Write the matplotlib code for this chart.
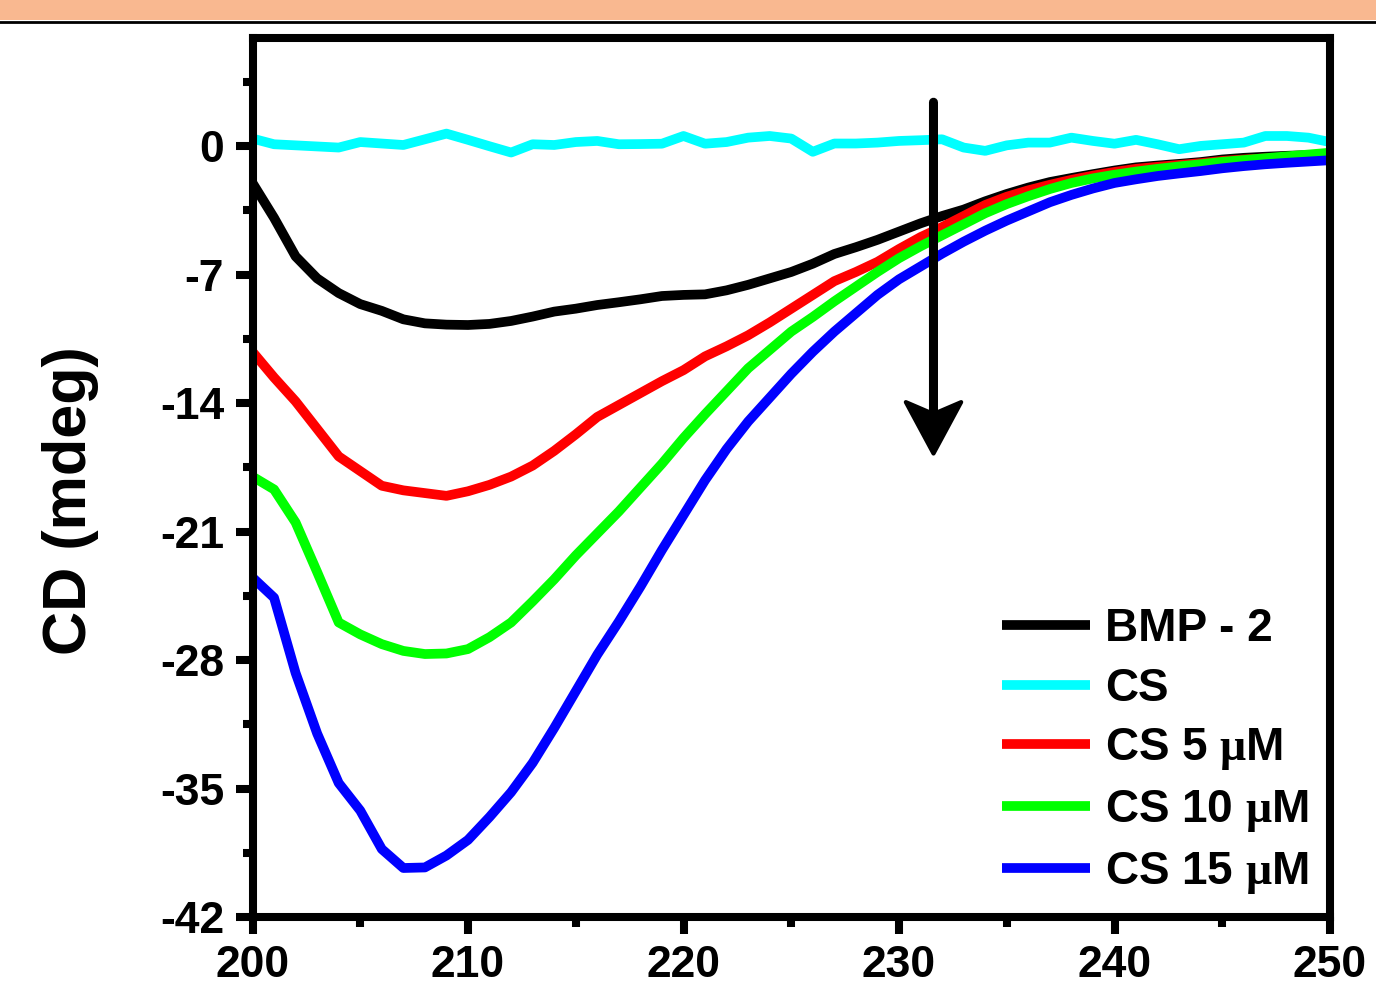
import numpy as np
import matplotlib
matplotlib.use("Agg")
import matplotlib.pyplot as plt
from matplotlib.patches import Rectangle
from matplotlib.lines import Line2D
from matplotlib.markers import MarkerStyle
from matplotlib.path import Path
from matplotlib.ticker import MultipleLocator

plt.rcParams['font.family'] = ['Liberation Sans', 'DejaVu Sans']
plt.rcParams['font.weight'] = 'bold'
plt.rcParams['axes.unicode_minus'] = False
plt.rcParams['mathtext.fontset'] = 'custom'
plt.rcParams['mathtext.rm'] = 'Liberation Serif'

# wavelength (nm), 1 nm steps
wavelength = np.arange(200, 251)

bmp2 = [-2.0, -3.9, -6.0, -7.2, -8.0, -8.6, -8.97, -9.43, -9.65, -9.72,
        -9.74, -9.68, -9.52, -9.28, -9.01, -8.85, -8.65, -8.5, -8.34, -8.16,
        -8.1, -8.07, -7.85, -7.55, -7.2, -6.85, -6.4, -5.87, -5.5, -5.1,
        -4.65, -4.2, -3.8, -3.45, -3.0, -2.6, -2.25, -1.95, -1.73, -1.52,
        -1.32, -1.15, -1.05, -0.96, -0.86, -0.72, -0.63, -0.57, -0.52, -0.48,
        -0.44]
cs = [0.42, 0.11, 0.05, -0.01, -0.07, 0.23, 0.15, 0.07, 0.38, 0.69,
      0.35, 0.0, -0.34, 0.11, 0.07, 0.23, 0.29, 0.11, 0.12, 0.14,
      0.56, 0.14, 0.23, 0.47, 0.56, 0.42, -0.3, 0.15, 0.15, 0.2,
      0.29, 0.33, 0.38, -0.07, -0.25, 0.05, 0.2, 0.2, 0.47, 0.29,
      0.14, 0.35, 0.11, -0.16, 0.02, 0.11, 0.2, 0.56, 0.56, 0.47,
      0.23]
cs_5um = [-11.2, -12.6, -13.9, -15.4, -16.9, -17.7, -18.5, -18.75, -18.9, -19.05,
          -18.8, -18.45, -18.0, -17.4, -16.6, -15.7, -14.75, -14.1, -13.45, -12.8,
          -12.2, -11.45, -10.9, -10.3, -9.6, -8.85, -8.1, -7.35, -6.85, -6.3,
          -5.6, -4.95, -4.4, -3.8, -3.2, -2.75, -2.4, -2.1, -1.83, -1.6,
          -1.4, -1.23, -1.12, -1.02, -0.92, -0.8, -0.72, -0.66, -0.62, -0.58,
          -0.55]
cs_10um = [-18.0, -18.7, -20.5, -23.2, -25.95, -26.6, -27.13, -27.5, -27.67, -27.64,
           -27.4, -26.75, -25.95, -24.8, -23.6, -22.3, -21.1, -19.9, -18.6, -17.3,
           -15.9, -14.6, -13.35, -12.1, -11.1, -10.1, -9.3, -8.45, -7.65, -6.85,
           -6.1, -5.45, -4.85, -4.25, -3.65, -3.15, -2.72, -2.33, -2.0, -1.75,
           -1.55, -1.38, -1.23, -1.1, -0.98, -0.85, -0.75, -0.65, -0.55, -0.45,
           -0.35]
cs_15um = [-23.5, -24.6, -28.7, -32.0, -34.7, -36.2, -38.3, -39.33, -39.3, -38.65,
           -37.8, -36.55, -35.2, -33.6, -31.7, -29.7, -27.7, -25.9, -24.0, -22.0,
           -20.1, -18.2, -16.5, -15.0, -13.7, -12.4, -11.2, -10.1, -9.1, -8.1,
           -7.25, -6.55, -5.85, -5.2, -4.6, -4.05, -3.55, -3.05, -2.65, -2.3,
           -2.0, -1.8, -1.62, -1.48, -1.35, -1.2, -1.08, -0.98, -0.9, -0.83,
           -0.76]

series = [bmp2, cs, cs_5um, cs_10um, cs_15um]
labels = ['BMP - 2', 'CS', r'CS 5 $\mathrm{\mu}$M', r'CS 10 $\mathrm{\mu}$M',
          r'CS 15 $\mathrm{\mu}$M']
colors = ['#000000', '#00FFFF', '#FF0000', '#00FF00', '#0000FF']
yticks = [0, -7, -14, -21, -28, -35, -42]
xticks = [200, 210, 220, 230, 240, 250]

# arrow: shaft from top to tip at this wavelength
arrow_x, arrow_top, arrow_tip = 231.6, 2.4, -16.7

fig = plt.figure(figsize=(13.76, 9.94), dpi=100)
# header band
fig.patches.append(Rectangle((0, 1 - 20 / 994), 1, 20 / 994, transform=fig.transFigure,
                             facecolor='#F9B890', edgecolor='none', zorder=0))
fig.lines.append(Line2D([0, 1], [1 - 21.8 / 994] * 2, transform=fig.transFigure,
                        color='black', lw=2))

ax = fig.add_axes([252.5 / 1376, 1 - 917 / 994, (1330 - 252.5) / 1376, (917 - 38) / 994])

for y, lab, c in zip(series, labels, colors):
    ax.plot(wavelength, y, color=c, lw=7, label=lab, solid_capstyle='butt')

# notched arrow head, origin at the tip
head = Path([(0, 0), (28, 52), (0, 40), (-28, 52), (0, 0)],
            [Path.MOVETO, Path.LINETO, Path.LINETO, Path.LINETO, Path.CLOSEPOLY])
ax.annotate('', xy=(arrow_x, arrow_tip + 2.0), xytext=(arrow_x, arrow_top),
            arrowprops=dict(arrowstyle='-', color='black', lw=6.5,
                            shrinkA=0, shrinkB=0), zorder=5)
ax.plot([arrow_x], [arrow_tip], linestyle='none', color='black', zorder=5,
        marker=MarkerStyle(head, joinstyle='round'), markersize=74,
        markeredgewidth=3)

ax.set_xlim(200, 250)
ax.set_ylim(-42, 5.9)
ax.set_xticks(xticks)
ax.set_yticks(yticks)
ax.xaxis.set_minor_locator(MultipleLocator(5))
ax.yaxis.set_minor_locator(MultipleLocator(3.5))

for s in ax.spines.values():
    s.set_linewidth(5.8)
ax.tick_params(which='major', direction='out', length=12.5, width=5.8,
               labelsize=32, pad=8, top=False, right=False)
ax.tick_params(which='minor', direction='out', length=7, width=5.8,
               top=False, right=False)
for t in ax.get_xticklabels() + ax.get_yticklabels():
    t.set_fontweight('bold')

ax.set_ylabel('CD (mdeg)', fontsize=44, fontweight='bold')
ax.yaxis.set_label_coords(-0.142, 0.474)

leg = ax.legend(loc='upper left', bbox_to_anchor=(0.696, 0.3527), frameon=False,
                fontsize=33, handlelength=1.9, handletextpad=0.33,
                labelspacing=0.343, borderpad=0, borderaxespad=0)
for t in leg.get_texts():
    t.set_fontweight('bold')

fig.savefig('out.png', dpi=100)
